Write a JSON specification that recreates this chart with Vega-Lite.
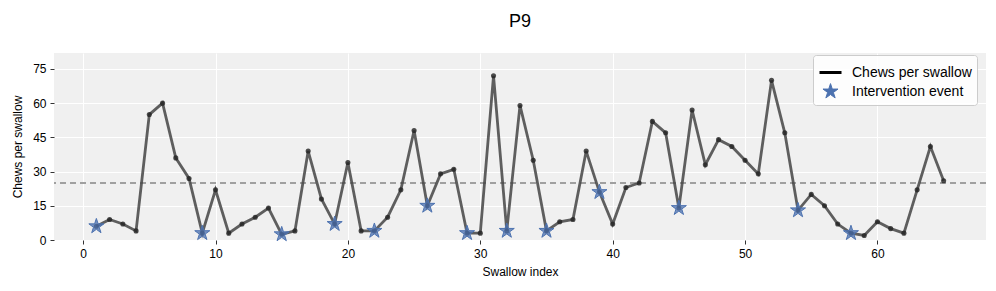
{
  "$schema": "https://vega.github.io/schema/vega-lite/v6.json",
  "width": 932,
  "height": 187,
  "autosize": {"type": "none"},
  "padding": {"left": 54, "top": 53, "right": 10, "bottom": 51},
  "background": "white",
  "title": {"text": "P9", "fontSize": 18, "font": "Liberation Sans", "fontWeight": "normal", "color": "black", "anchor": "middle", "frame": "group", "offset": 22},
  "config": {
    "view": {"fill": "#f0f0f0", "stroke": null},
    "font": "Liberation Sans",
    "axis": {
      "domain": false, "grid": true, "gridColor": "#ffffff", "gridWidth": 1,
      "ticks": true, "tickColor": "#333333", "tickSize": 4, "tickWidth": 1,
      "labelFontSize": 12, "labelColor": "#000000", "labelFont": "Liberation Sans",
      "titleFontSize": 12, "titleFontWeight": "normal", "titleColor": "#000000", "titleFont": "Liberation Sans",
      "labelPadding": 4
    }
  },
  "data": {"values": [
    {"i":1,"v":6,"event":"Intervention event"},{"i":2,"v":9},{"i":3,"v":7},{"i":4,"v":4},{"i":5,"v":55},
    {"i":6,"v":60},{"i":7,"v":36},{"i":8,"v":27},{"i":9,"v":3,"event":"Intervention event"},{"i":10,"v":22},
    {"i":11,"v":3},{"i":12,"v":7},{"i":13,"v":10},{"i":14,"v":14},{"i":15,"v":2.5,"event":"Intervention event"},
    {"i":16,"v":4},{"i":17,"v":39},{"i":18,"v":18},{"i":19,"v":7,"event":"Intervention event"},{"i":20,"v":34},
    {"i":21,"v":4},{"i":22,"v":4,"event":"Intervention event"},{"i":23,"v":10},{"i":24,"v":22},{"i":25,"v":48},
    {"i":26,"v":15,"event":"Intervention event"},{"i":27,"v":29},{"i":28,"v":31},{"i":29,"v":3,"event":"Intervention event"},{"i":30,"v":3},
    {"i":31,"v":72},{"i":32,"v":4,"event":"Intervention event"},{"i":33,"v":59},{"i":34,"v":35},{"i":35,"v":4,"event":"Intervention event"},
    {"i":36,"v":8},{"i":37,"v":9},{"i":38,"v":39},{"i":39,"v":21,"event":"Intervention event"},{"i":40,"v":7},
    {"i":41,"v":23},{"i":42,"v":25},{"i":43,"v":52},{"i":44,"v":47},{"i":45,"v":14,"event":"Intervention event"},
    {"i":46,"v":57},{"i":47,"v":33},{"i":48,"v":44},{"i":49,"v":41},{"i":50,"v":35},
    {"i":51,"v":29},{"i":52,"v":70},{"i":53,"v":47},{"i":54,"v":13,"event":"Intervention event"},{"i":55,"v":20},
    {"i":56,"v":15},{"i":57,"v":7},{"i":58,"v":3,"event":"Intervention event"},{"i":59,"v":2},{"i":60,"v":8},
    {"i":61,"v":5},{"i":62,"v":3},{"i":63,"v":22},{"i":64,"v":41},{"i":65,"v":26}
  ]},
  "encoding": {
    "x": {"field": "i", "type": "quantitative", "title": "Swallow index",
          "scale": {"domain": [-2.2, 68.2], "nice": false, "zero": false},
          "axis": {"values": [0,10,20,30,40,50,60], "titlePadding": 7}},
    "y": {"field": "v", "type": "quantitative", "title": "Chews per swallow",
          "scale": {"domain": [0, 82], "nice": false},
          "axis": {"values": [0,15,30,45,60,75], "titlePadding": 8}}
  },
  "layer": [
    {"mark": {"type": "rule", "color": "#a0a0a0", "strokeWidth": 1.5, "strokeDash": [6, 4]},
     "encoding": {"y": {"datum": 25}, "x": null}},
    {"mark": {"type": "line", "color": "#444444", "opacity": 0.85, "strokeWidth": 2.8}},
    {"mark": {"type": "point", "filled": true, "color": "#222222", "opacity": 0.8, "size": 26}},
    {"transform": [{"filter": "isValid(datum.event)"}],
     "mark": {"type": "point", "filled": true, "fillOpacity": 0.75, "opacity": 1},
     "encoding": {
       "fill": {"field": "event", "type": "nominal",
                "scale": {"domain": ["Chews per swallow", "Intervention event"], "range": ["#000000", "#4c72b0"]},
                "legend": {"title": null, "orient": "none", "legendX": 759, "legendY": 2,
                           "labelFontSize": 14, "labelFont": "Liberation Sans", "labelColor": "#000000",
                           "fillColor": "rgba(255,255,255,0.85)", "strokeColor": "#cccccc", "cornerRadius": 3,
                           "padding": 5, "labelOffset": 9, "rowPadding": 1}},
       "stroke": {"field": "event", "type": "nominal",
                  "scale": {"domain": ["Chews per swallow", "Intervention event"], "range": ["#000000", "#4c72b0"]}},
       "size": {"field": "event", "type": "nominal",
                "scale": {"domain": ["Chews per swallow", "Intervention event"], "range": [484, 250]}},
       "strokeWidth": {"field": "event", "type": "nominal",
                "scale": {"domain": ["Chews per swallow", "Intervention event"], "range": [3, 1]}},
       "shape": {"field": "event", "type": "nominal",
                 "scale": {"domain": ["Chews per swallow", "Intervention event"],
                           "range": ["stroke", "M0,-1L0.2245,-0.309L0.951,-0.309L0.363,0.118L0.588,0.809L0,0.382L-0.588,0.809L-0.363,0.118L-0.951,-0.309L-0.2245,-0.309Z"]}}
     }}
  ]
}
